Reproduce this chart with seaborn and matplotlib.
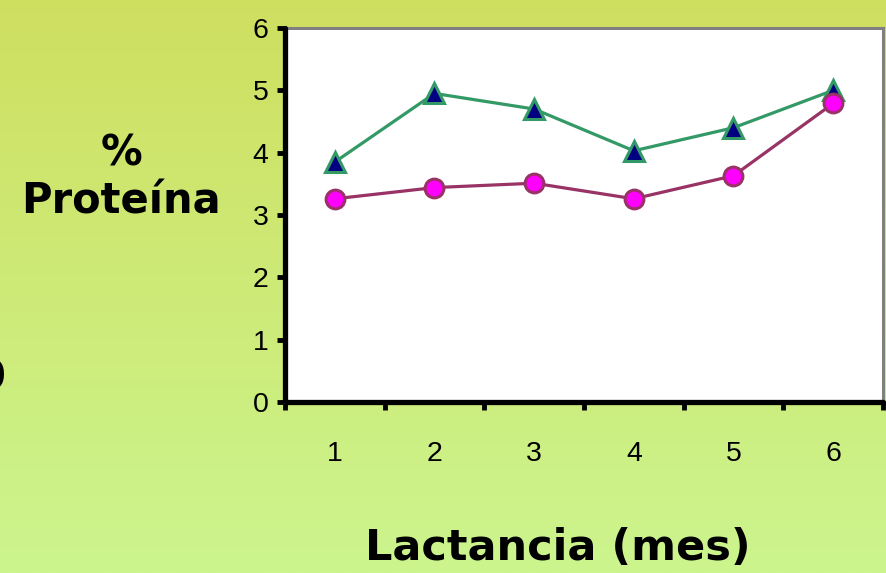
import numpy as np
import pandas as pd
import matplotlib
matplotlib.use("Agg")
import matplotlib.pyplot as plt
import seaborn as sns
from matplotlib.colors import LinearSegmentedColormap

# ---- data ----
months = ["1", "2", "3", "4", "5", "6"]
serie_verde = [3.85, 4.95, 4.70, 4.03, 4.40, 5.00]
serie_magenta = [3.26, 3.44, 3.51, 3.26, 3.63, 4.79]
y_ticks = [0, 1, 2, 3, 4, 5, 6]

sns.set_theme(style="white")
plt.rcParams['font.family'] = ['DejaVu Sans']
plt.rcParams['text.color'] = 'black'

fig = plt.figure(figsize=(8.87, 5.73), dpi=100)

# gradient background
bg = fig.add_axes([0, 0, 1, 1], zorder=-10)
grad = np.linspace(0, 1, 256).reshape(-1, 1)
cmap = LinearSegmentedColormap.from_list("bg", ["#cfdf60", "#ccf58e"])
bg.imshow(grad, aspect="auto", cmap=cmap, extent=[0, 1, 0, 1], origin="upper")
bg.set_axis_off()

W, H = 887, 573
left, right, top, bottom = 285, 883, 28, 402
ax = fig.add_axes([left / W, 1 - bottom / H, (right - left) / W, (bottom - top) / H])
ax.set_facecolor("white")

pos = list(range(len(months)))
df = pd.DataFrame({"pos": pos, "verde": serie_verde, "magenta": serie_magenta})

sns.lineplot(data=df, x="pos", y="verde", ax=ax, color="#339966", lw=2.3,
             marker="^", markersize=15, markerfacecolor="#000080",
             markeredgecolor="#339966", markeredgewidth=2.2, zorder=3)
sns.lineplot(data=df, x="pos", y="magenta", ax=ax, color="#993366", lw=2.3,
             marker="o", markersize=13.5, markerfacecolor="#ff00ff",
             markeredgecolor="#993366", markeredgewidth=2.2, zorder=4)

ax.set_xlim(-0.5, len(months) - 0.5)
ax.set_ylim(0, 6)

tick_font = ['Liberation Sans', 'DejaVu Sans']

# y ticks
ax.set_yticks(y_ticks)
ax.set_yticklabels([str(v) for v in y_ticks], fontfamily=tick_font, fontsize=20.5, color="black")
ax.tick_params(axis="y", direction="out", length=6, width=3.5, color="black", pad=6, left=True)

# x ticks: major at boundaries, labels at centers
ax.set_xticks(np.arange(-0.5, len(months), 1.0))
ax.set_xticklabels([""] * (len(months) + 1))
ax.set_xticks(pos, minor=True)
ax.set_xticklabels(months, minor=True, fontfamily=tick_font, fontsize=20.5, color="black")
ax.tick_params(axis="x", which="major", direction="out", length=6, width=3.5, color="black", bottom=True)
ax.tick_params(axis="x", which="minor", length=0, pad=28, bottom=True)

for t in ax.get_xticklines() + ax.get_yticklines():
    t.set_solid_capstyle("round")

for s in ["left", "bottom"]:
    ax.spines[s].set_color("black")
    ax.spines[s].set_linewidth(3.8)
    ax.spines[s].set_capstyle("round")
for s in ["top", "right"]:
    ax.spines[s].set_color("#808080")
    ax.spines[s].set_linewidth(2.2)
    ax.spines[s].set_zorder(0.5)

ax.set_xlabel("Lactancia (mes)", fontsize=31, fontweight="bold", color="black", va="center")
ax.xaxis.set_label_coords(0.456, -0.39)
ax.set_ylabel("%\nProteína", fontsize=30, fontweight="bold", rotation=0,
              ha="center", va="center", linespacing=1.2, color="black")
ax.yaxis.set_label_coords(-0.274, 0.60)

# partial glyph at the left edge (cut off in the original as well)
fig.text(5 / W, 1 - 378 / H, "0", fontsize=29, fontweight="bold", ha="right", va="center")

fig.savefig("out.png", dpi=100)
